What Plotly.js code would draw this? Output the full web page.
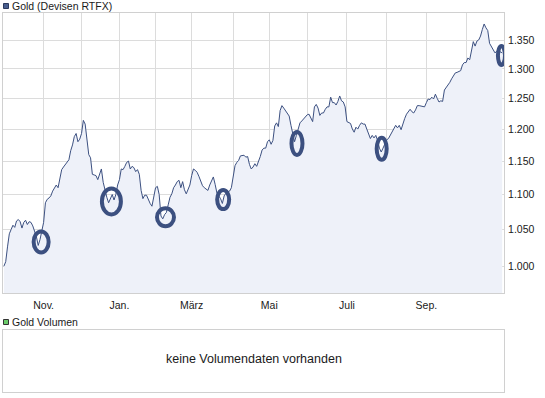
<!DOCTYPE html>
<html><head><meta charset="utf-8">
<script src="https://cdn.plot.ly/plotly-3.0.1.min.js"></script>
<style>html,body{margin:0;padding:0;background:#fff;}#chart{width:545px;height:398px;}</style>
</head><body><div id="chart"></div>
<script>
// ---- data (gold price) ----
const dates = [
'2009-10-01','2009-10-02','2009-10-05','2009-10-06','2009-10-07','2009-10-08','2009-10-09','2009-10-12','2009-10-13','2009-10-14',
'2009-10-15','2009-10-16','2009-10-19','2009-10-20','2009-10-21','2009-10-22','2009-10-23','2009-10-26','2009-10-27','2009-10-28',
'2009-10-29','2009-10-30','2009-11-02','2009-11-03','2009-11-04','2009-11-05','2009-11-06','2009-11-09','2009-11-10','2009-11-11',
'2009-11-12','2009-11-13','2009-11-16','2009-11-17','2009-11-18','2009-11-19','2009-11-20','2009-11-23','2009-11-24','2009-11-25',
'2009-11-26','2009-11-27','2009-11-30','2009-12-01','2009-12-02','2009-12-03','2009-12-04','2009-12-07','2009-12-08','2009-12-09',
'2009-12-10','2009-12-11','2009-12-14','2009-12-15','2009-12-16','2009-12-17','2009-12-18','2009-12-21','2009-12-22','2009-12-23',
'2009-12-24','2009-12-28','2009-12-29','2009-12-30','2010-01-04','2010-01-05','2010-01-06','2010-01-07','2010-01-08','2010-01-11',
'2010-01-12','2010-01-13','2010-01-14','2010-01-15','2010-01-18','2010-01-19','2010-01-20','2010-01-21','2010-01-22','2010-01-25',
'2010-01-26','2010-01-27','2010-01-28','2010-01-29','2010-02-01','2010-02-02','2010-02-03','2010-02-04','2010-02-05','2010-02-08',
'2010-02-09','2010-02-10','2010-02-11','2010-02-12','2010-02-15','2010-02-16','2010-02-17','2010-02-18','2010-02-19','2010-02-22',
'2010-02-23','2010-02-24','2010-02-25','2010-02-26','2010-03-01','2010-03-02','2010-03-03','2010-03-04','2010-03-05','2010-03-08',
'2010-03-09','2010-03-10','2010-03-11','2010-03-12','2010-03-15','2010-03-16','2010-03-17','2010-03-18','2010-03-19','2010-03-22',
'2010-03-23','2010-03-24','2010-03-25','2010-03-26','2010-03-29','2010-03-30','2010-03-31','2010-04-01','2010-04-06','2010-04-07',
'2010-04-08','2010-04-09','2010-04-12','2010-04-13','2010-04-14','2010-04-15','2010-04-16','2010-04-19','2010-04-20','2010-04-21',
'2010-04-22','2010-04-23','2010-04-26','2010-04-27','2010-04-28','2010-04-29','2010-04-30','2010-05-03','2010-05-04','2010-05-05',
'2010-05-06','2010-05-07','2010-05-10','2010-05-11','2010-05-12','2010-05-13','2010-05-14','2010-05-17','2010-05-18','2010-05-19',
'2010-05-20','2010-05-21','2010-05-24','2010-05-25','2010-05-26','2010-05-27','2010-05-28','2010-05-31','2010-06-01','2010-06-02',
'2010-06-03','2010-06-04','2010-06-07','2010-06-08','2010-06-09','2010-06-10','2010-06-11','2010-06-14','2010-06-15','2010-06-16',
'2010-06-17','2010-06-18','2010-06-21','2010-06-22','2010-06-23','2010-06-24','2010-06-25','2010-06-28','2010-06-29','2010-06-30',
'2010-07-01','2010-07-02','2010-07-05','2010-07-06','2010-07-07','2010-07-08','2010-07-09','2010-07-12','2010-07-13','2010-07-14',
'2010-07-15','2010-07-16','2010-07-19','2010-07-20','2010-07-21','2010-07-22','2010-07-23','2010-07-26','2010-07-27','2010-07-28',
'2010-07-29','2010-07-30','2010-08-02','2010-08-03','2010-08-04','2010-08-05','2010-08-06','2010-08-09','2010-08-10','2010-08-11',
'2010-08-12','2010-08-13','2010-08-16','2010-08-17','2010-08-18','2010-08-19','2010-08-20','2010-08-23','2010-08-24','2010-08-25',
'2010-08-26','2010-08-27','2010-08-30','2010-08-31','2010-09-01','2010-09-02','2010-09-03','2010-09-06','2010-09-07','2010-09-08',
'2010-09-09','2010-09-10','2010-09-13','2010-09-14','2010-09-15','2010-09-16','2010-09-17','2010-09-20','2010-09-21','2010-09-22',
'2010-09-23','2010-09-24','2010-09-27','2010-09-28','2010-09-29','2010-09-30','2010-10-01','2010-10-04','2010-10-05','2010-10-06',
'2010-10-07','2010-10-08','2010-10-11','2010-10-12','2010-10-13','2010-10-14','2010-10-15','2010-10-18','2010-10-19','2010-10-20',
'2010-10-21','2010-10-22','2010-10-25','2010-10-26','2010-10-27','2010-10-28','2010-10-29'
];
const prices = [
1000,1006,1026,1044,1050,1056,1053,1062,1064,1061,
1052,1060,1063,1057,1061,1060,1055,1047,1040,1028,
1036,1048,1060,1088,1093,1095,1098,1105,1109,1114,
1110,1122,1137,1141,1145,1147,1152,1166,1175,1188,
1193,1180,1184,1193,1214,1208,1182,1160,1155,1130,
1129,1128,1122,1132,1138,1118,1105,1096,1088,1095,
1100,1092,1100,1114,1122,1138,1137,1142,1148,1150,
1138,1142,1140,1134,1137,1130,1106,1094,1099,1099,
1092,1087,1083,1096,1110,1112,1100,1069,1065,1071,
1074,1085,1096,1101,1110,1114,1119,1121,1110,1119,
1107,1101,1108,1114,1128,1138,1136,1133,1127,1120,
1113,1110,1108,1106,1114,1120,1126,1115,1102,1098,
1094,1087,1098,1102,1104,1105,1110,1128,1143,1148,
1151,1158,1158,1159,1156,1157,1145,1138,1141,1146,
1142,1149,1157,1167,1170,1170,1180,1183,1176,1182,
1205,1210,1204,1230,1238,1234,1230,1226,1221,1206,
1190,1180,1190,1200,1210,1213,1217,1220,1223,1224,
1218,1212,1236,1240,1234,1222,1226,1226,1232,1236,
1236,1252,1243,1243,1239,1245,1254,1246,1244,1236,
1212,1210,1209,1200,1195,1203,1200,1206,1210,1208,
1208,1200,1193,1185,1190,1186,1190,1182,1170,1164,
1170,1178,1183,1185,1190,1196,1202,1206,1202,1206,
1199,1209,1217,1224,1228,1232,1228,1226,1231,1238,
1238,1237,1237,1236,1243,1249,1248,1252,1249,1257,
1250,1244,1246,1245,1264,1268,1273,1277,1283,1288,
1293,1294,1295,1297,1307,1311,1311,1319,1316,1336,
1348,1340,1349,1351,1358,1370,1380,1373,1368,1345,
1339,1333,1328,1331,1325,1330,1328
];
const holidays = ['2009-12-25','2009-12-31','2010-01-01','2010-04-02','2010-04-05'];
const monthTicks = ['2009-11-02','2009-12-01','2010-01-04','2010-02-01','2010-03-01','2010-04-01',
                    '2010-05-03','2010-06-01','2010-07-01','2010-08-02','2010-09-01','2010-10-01'];
const monthLabels = ['Nov.','','Jan.','','März','','Mai','','Juli','','Sep.',''];
const yTicks = [1000,1050,1100,1150,1200,1250,1300,1350];
const yLabels = ['1.000','1.050','1.100','1.150','1.200','1.250','1.300','1.350'];
const xRange = ['2009-09-30 12:00','2010-10-29 23:59'];
const yRange = [964.6, 1400.3];
// marked points (rings)
const ringDates = ['2009-10-29 15:00','2009-12-23 13:00','2010-02-08 12:00','2010-03-24 11:00',
                   '2010-05-24 08:00','2010-07-28 06:00','2010-10-28 14:00'];
const ringValues = [1032.8,1090,1067.4,1092.6,1177.4,1168.9,1323.4];

// ---- styles ----
const ringW = [15,19,17,12,11,10,7];
const ringH = [21,26,18,19,23,22,19];
const LINE = '#3c5080', FILL = '#eef1f9', GRID = '#dcdcdc', BORDER = '#d0d0d0';
const W = 545, H = 398, ML = 3, MR = 41, MT = 13, MB = 6;
const plotH = H - MT - MB, plotW = W - ML - MR;
const py = y => (H - MB - y) / plotH;
const px = x => (x - ML) / plotW;
const MAIN_BOTTOM = 293.3;
const mainPx = MAIN_BOTTOM - MT;
const pxPerDecade = mainPx / Math.log10(yRange[1] / yRange[0]);
const FONT = {family: '"Liberation Sans", Arial, sans-serif', size: 10.5, color: '#1a1a1a'};

const traces = [
  {x: [dates[0], dates[dates.length - 1]], y: [900, 900], mode: 'lines', line: {width: 0, color: FILL},
   hoverinfo: 'skip', xaxis: 'x', yaxis: 'y'},
  {x: dates, y: prices, mode: 'lines', line: {color: LINE, width: 1}, fill: 'tonexty', fillcolor: FILL,
   xaxis: 'x', yaxis: 'y'},
  {x: [], y: [], xaxis: 'x2', yaxis: 'y2', mode: 'lines'}
];

// ring outlines: horizontal size in pixels around the anchor date, vertical size converted to the log scale
const shapes = ringDates.map((d, i) => {
  const f = Math.pow(10, (ringH[i] / 2) / pxPerDecade);
  return {
    type: 'circle', xref: 'x', yref: 'y',
    xsizemode: 'pixel', xanchor: d, x0: -ringW[i] / 2, x1: ringW[i] / 2,
    ysizemode: 'scaled', y0: ringValues[i] / f, y1: ringValues[i] * f,
    line: {color: LINE, width: 4}, fillcolor: 'rgba(0,0,0,0)', layer: 'above'
  };
});
// legend squares
shapes.push({type: 'rect', xref: 'paper', yref: 'paper', xsizemode: 'pixel', ysizemode: 'pixel',
  xanchor: 0, yanchor: py(6), x0: 0.5, x1: 5.5, y0: -2.5, y1: 2.5,
  fillcolor: '#4a5f8f', line: {color: '#2c3a5e', width: 1}});
shapes.push({type: 'rect', xref: 'paper', yref: 'paper', xsizemode: 'pixel', ysizemode: 'pixel',
  xanchor: 0, yanchor: py(322), x0: 0.5, x1: 5.5, y0: -2.5, y1: 2.5,
  fillcolor: '#6acb6a', line: {color: '#333333', width: 1}});

const annotations = [
  {text: 'Gold (Devisen RTFX)', xref: 'paper', yref: 'paper', x: px(10), y: py(6.3), xanchor: 'left', yanchor: 'middle',
   showarrow: false, font: FONT},
  {text: 'Gold Volumen', xref: 'paper', yref: 'paper', x: px(10), y: py(322), xanchor: 'left', yanchor: 'middle',
   showarrow: false, font: FONT},
  {text: 'keine Volumendaten vorhanden', xref: 'paper', yref: 'paper', x: 0.5, y: py(359), xanchor: 'center', yanchor: 'middle',
   showarrow: false, font: {family: FONT.family, size: 12.5, color: '#1a1a1a'}}
];

const layout = {
  width: W, height: H, margin: {l: ML, r: MR, t: MT, b: MB, pad: 0},
  paper_bgcolor: '#ffffff', plot_bgcolor: '#ffffff', showlegend: false, font: FONT,
  xaxis: {type: 'date', domain: [0, 1], anchor: 'y', range: xRange,
    rangebreaks: [{bounds: ['sat', 'mon']}, {values: holidays}],
    tickmode: 'array', tickvals: monthTicks, ticktext: monthLabels, ticks: '',
    showgrid: true, gridcolor: GRID, gridwidth: 1, showline: true, linecolor: BORDER, linewidth: 1,
    mirror: true, zeroline: false, ticklabelstandoff: 2, fixedrange: true, tickfont: FONT},
  yaxis: {type: 'log', domain: [py(MAIN_BOTTOM), 1], anchor: 'x', side: 'right',
    range: [Math.log10(yRange[0]), Math.log10(yRange[1])],
    tickmode: 'array', tickvals: yTicks, ticktext: yLabels, ticks: '',
    showgrid: true, gridcolor: GRID, gridwidth: 1, showline: true, linecolor: BORDER, linewidth: 1,
    mirror: true, zeroline: false, ticklabelstandoff: 1, fixedrange: true, tickfont: FONT},
  xaxis2: {domain: [0, 1], anchor: 'y2', range: [0, 1], showgrid: false, zeroline: false,
    showticklabels: false, ticks: '', showline: true, mirror: true, linecolor: BORDER, linewidth: 1, fixedrange: true},
  yaxis2: {domain: [0, py(330)], anchor: 'x2', range: [0, 1], showgrid: false, zeroline: false,
    showticklabels: false, ticks: '', showline: true, mirror: true, linecolor: BORDER, linewidth: 1, fixedrange: true},
  shapes: shapes, annotations: annotations
};

Plotly.newPlot('chart', traces, layout, {staticPlot: true, displayModeBar: false});
</script>
</body></html>
